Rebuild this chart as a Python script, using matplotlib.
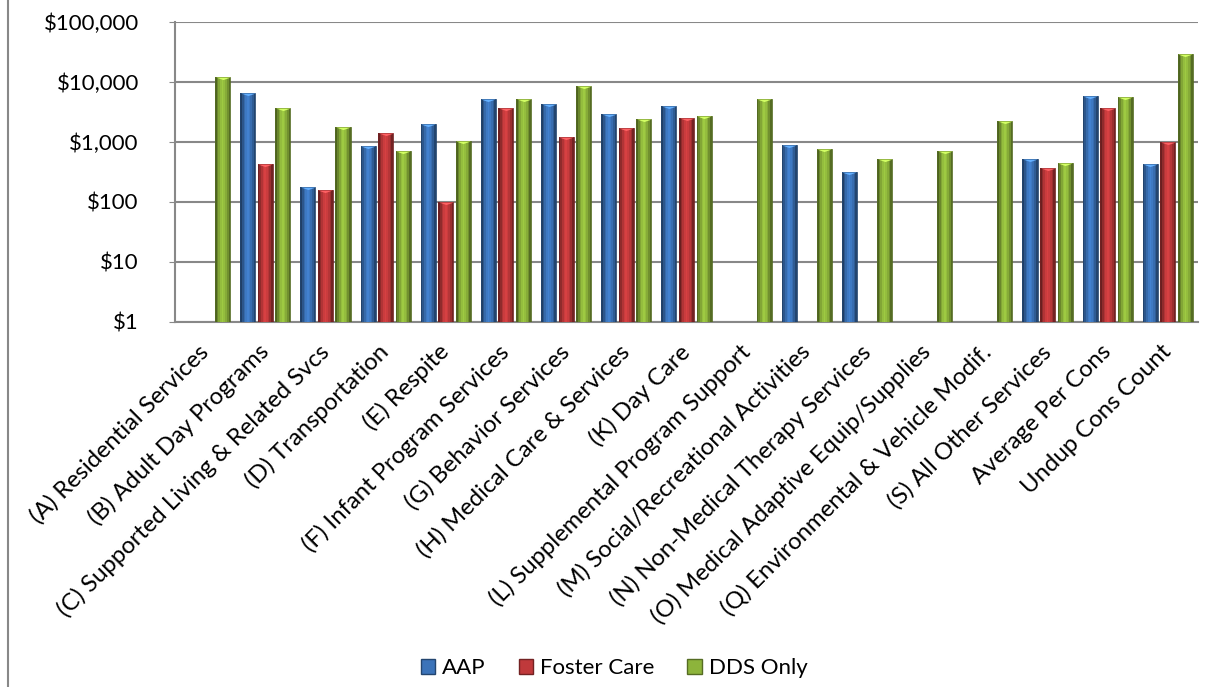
import numpy as np
import matplotlib
matplotlib.use("Agg")
import matplotlib.pyplot as plt
from matplotlib.colors import to_rgb
from matplotlib.lines import Line2D
from matplotlib.patches import Patch
from matplotlib.path import Path

plt.rcParams['font.family'] = ['Lato', 'DejaVu Sans']

categories = ["(A) Residential Services", "(B) Adult Day Programs",
              "(C) Supported Living & Related Svcs", "(D) Transportation",
              "(E) Respite", "(F) Infant Program Services",
              "(G) Behavior Services", "(H) Medical Care & Services",
              "(K) Day Care", "(L) Supplemental Program Support",
              "(M) Social/Recreational Activities",
              "(N) Non-Medical Therapy Services",
              "(O) Medical Adaptive Equip/Supplies",
              "(Q) Environmental & Vehicle Modif.",
              "(S) All Other Services", "Average Per Cons", "Undup Cons Count"]
nan = np.nan
aap = [nan, 6600, 180, 870, 2020, 5250, 4350, 2900, 4030, nan, 900, 320,
       nan, nan, 527, 5900, 435]
foster = [nan, 435, 160, 1430, 101, 3720, 1200, 1730, 2540, nan, nan, nan,
          nan, nan, 373, 3720, 1010]
dds = [12300, 3700, 1800, 716, 1050, 5150, 8700, 2400, 2750, 5250, 776, 527,
       716, 2265, 452, 5690, 28900]
series = ["AAP", "Foster Care", "DDS Only"]
colors = ["#3b73b9", "#c0393b", "#8db43b"]
yticks = [1, 10, 100, 1000, 10000, 100000]
ylabels = ["$1", "$10", "$100", "$1,000", "$10,000", "$100,000"]

fig = plt.figure(figsize=(12.15, 6.87), dpi=100)
ax = fig.add_axes([175/1215, 1-322/687, 1023/1215, 300/687])

x = np.arange(len(categories))
w = 0.25
offsets = [-0.292, 0.0, 0.292]
nstrip = 9
# cylinder-like shading across each bar
shade = np.array([0.55, 0.75, 0.92, 1.05, 1.12, 1.05, 0.95, 0.8, 0.6])
cap = Path([(-1, 0), (1, 0), (0, -0.35), (-1, 0)],
           [Path.MOVETO, Path.LINETO, Path.LINETO, Path.CLOSEPOLY])

for vals, col, off in zip([aap, foster, dds], colors, offsets):
    base = np.array(to_rgb(col))
    vals = np.array(vals, dtype=float)
    for k in range(nstrip):
        c = np.clip(base * shade[k], 0, 1)
        ax.bar(x + off - w/2 + (k + 0.5) * w / nstrip, vals - 1, bottom=1,
               width=w / nstrip, color=c, linewidth=0, zorder=3)
    ax.bar(x + off, vals - 1, bottom=1, width=w, fill=False,
           edgecolor=np.clip(base * 0.6, 0, 1), linewidth=0.6, zorder=4)
    light = np.clip(base * 1.35 + 0.08, 0, 1)
    ax.plot(x + off, vals, linestyle='none', marker=cap, markersize=10.5,
            color=light, markeredgewidth=0, zorder=5)

ax.set_yscale('log')
ax.set_ylim(1, 100000)
ax.set_xlim(-0.5, len(categories) - 0.5)
ax.set_yticks(yticks)
ax.set_yticklabels(ylabels, fontsize=16)
ax.minorticks_off()
ax.yaxis.grid(True, color='#888888', linewidth=1.5, zorder=0)
ax.set_axisbelow(True)
ax.set_xticks(x)
ax.set_xticklabels(categories, rotation=45, ha='right', va='center',
                   rotation_mode='anchor', fontsize=17.2)
ax.tick_params(axis='x', length=0, pad=19)
ax.tick_params(axis='y', length=4, color='#888888', pad=22)
for s in ['top', 'right']:
    ax.spines[s].set_visible(False)
for s in ['left', 'bottom']:
    ax.spines[s].set_color('#888888')
    ax.spines[s].set_linewidth(1.5)

handles = [Patch(facecolor=c, edgecolor=np.clip(np.array(to_rgb(c)) * 0.6, 0, 1))
           for c in colors]
fig.legend(handles, series, loc='center', bbox_to_anchor=(614/1215, 1-668/687),
           ncol=3, frameon=False, fontsize=16, handlelength=0.65,
           handleheight=0.65, handletextpad=0.3, columnspacing=1.5)

fig.add_artist(Line2D([8/1215, 8/1215], [0, 1], color='#888888', linewidth=1.5))

fig.savefig("out.png", dpi=100)
